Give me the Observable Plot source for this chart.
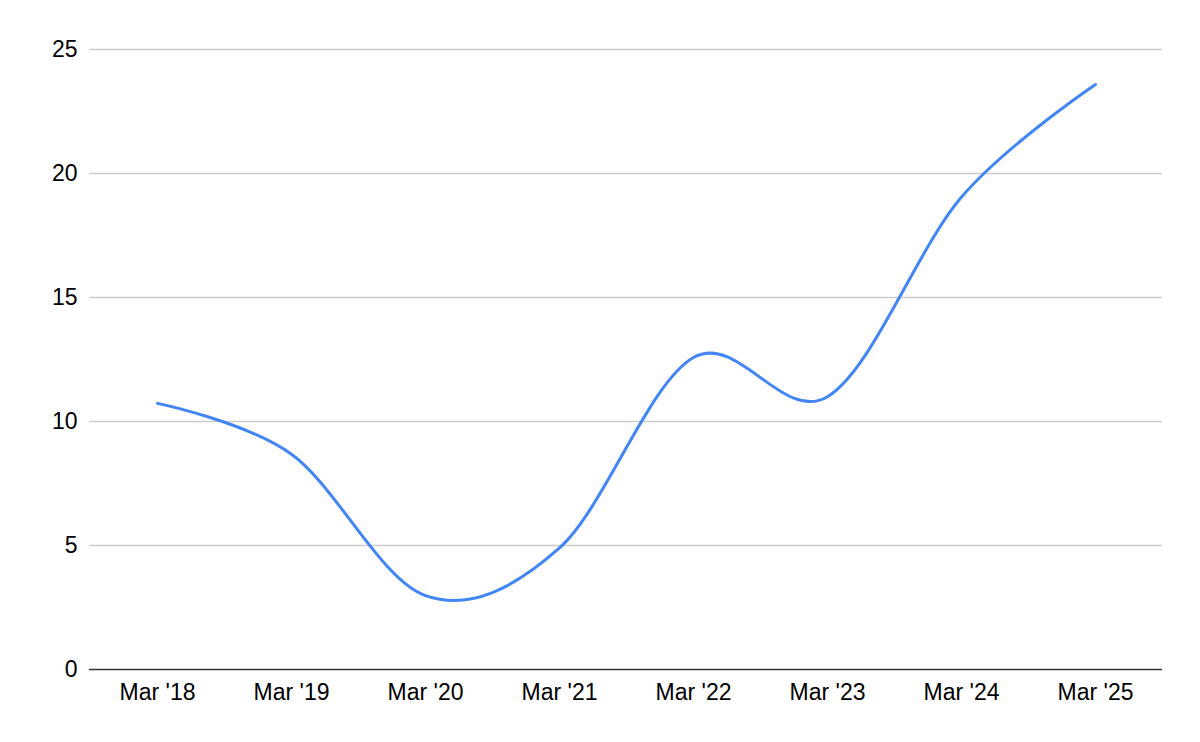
<!DOCTYPE html>
<html>
<head>
<meta charset="utf-8">
<script src="https://cdn.jsdelivr.net/npm/d3@7"></script>
<script src="https://cdn.jsdelivr.net/npm/@observablehq/plot@0.6"></script>
<style>
  html, body { margin: 0; padding: 0; background: #fff; }
  svg { display: block; }
</style>
</head>
<body>
<div id="chart"></div>
<script>
const categories = ["Mar '18", "Mar '19", "Mar '20", "Mar '21", "Mar '22", "Mar '23", "Mar '24", "Mar '25"];
const values = [10.73, 8.68, 2.98, 4.9, 12.58, 11.0, 19.05, 23.59];
const yTicks = [0, 5, 10, 15, 20, 25];

const data = categories.map((c, i) => ({ label: c, value: values[i] }));

const chart = Plot.plot({
  width: 1200,
  height: 742,
  marginLeft: 89,
  marginRight: 38,
  marginTop: 49,
  marginBottom: 73,
  style: { fontFamily: "'Liberation Sans', Arial, sans-serif", fontSize: "23px", color: "#000", background: "#fff" },
  x: { type: "point", domain: categories, padding: 0.5 },
  y: { domain: [0, 25] },
  marks: [
    Plot.ruleY(yTicks.filter(d => d > 0), { stroke: "#cccccc", strokeWidth: 1.3 }),
    Plot.ruleY([0], { stroke: "#333333", strokeWidth: 1.6 }),
    Plot.axisY({ ticks: yTicks, tickSize: 0, tickPadding: 12, label: null, fill: "#000", fontSize: 23 }),
    Plot.axisX({ tickSize: 0, tickPadding: 14, label: null, fill: "#000", fontSize: 23 }),
    Plot.line(data, { x: "label", y: "value", stroke: "#4285F4", strokeWidth: 3, curve: "cardinal", tension: 0 })
  ]
});
document.getElementById("chart").append(chart);
</script>
</body>
</html>
